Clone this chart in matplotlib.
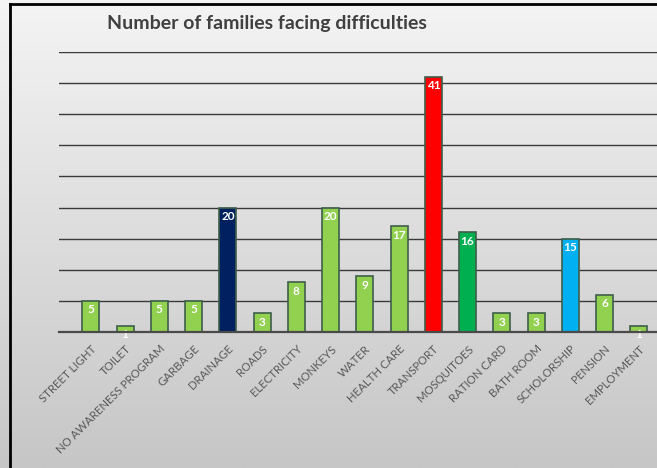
import numpy as np
import matplotlib.pyplot as plt
from matplotlib.lines import Line2D

categories = ['STREET LIGHT', 'TOILET', 'NO AWARENESS PROGRAM', 'GARBAGE', 'DRAINAGE',
              'ROADS', 'ELECTRICITY', 'MONKEYS', 'WATER', 'HEALTH CARE', 'TRANSPORT',
              'MOSQUITOES', 'RATION CARD', 'BATH ROOM', 'SCHOLORSHIP', 'PENSION', 'EMPLOYMENT']
families = [5, 1, 5, 5, 20, 3, 8, 20, 9, 17, 41, 16, 3, 3, 15, 6, 1]

green = '#92D050'
special = {'DRAINAGE': '#002060', 'TRANSPORT': '#FF0000',
           'MOSQUITOES': '#00B050', 'SCHOLORSHIP': '#00B0F0'}
colors = [special.get(c, green) for c in categories]

plt.rcParams['font.family'] = ['Lato', 'DejaVu Sans']

fig = plt.figure(figsize=(6.57, 4.68), dpi=100)

# gradient background
bg = fig.add_axes([0, 0, 1, 1], zorder=-10)
grad = np.linspace(0, 1, 256).reshape(-1, 1)
bg.imshow(grad, aspect='auto', cmap=plt.matplotlib.colors.LinearSegmentedColormap.from_list(
    'g', ['#f4f4f4', '#c6c6c6']), extent=[0, 1, 0, 1], origin='upper')
bg.axis('off')

# frame lines (top and left)
fig.add_artist(Line2D([10/657, 1], [1 - 4/468, 1 - 4/468], color='black', lw=2, transform=fig.transFigure))
fig.add_artist(Line2D([10/657, 10/657], [0, 1 - 4/468], color='black', lw=2, transform=fig.transFigure))

ax = fig.add_axes([59/657, 136/468, 1 - 59/657, 280/468])
ax.patch.set_alpha(0)
x = np.arange(len(categories))
bars = ax.bar(x, families, width=0.5, color=colors, edgecolor='#3e5e4a', linewidth=1.2, zorder=3)

for b, v in zip(bars, families):
    ax.annotate(str(v), (b.get_x() + b.get_width() / 2, v), xytext=(0, -6.5),
                textcoords='offset points', ha='center', va='center',
                color='white', fontsize=8.5, fontweight='bold', zorder=4)

ax.set_xlim(-0.93, 16.53)
ax.set_ylim(0, 45)
ax.set_yticks(np.arange(5, 50, 5))
ax.yaxis.grid(True, color='#3a3a3a', lw=1, zorder=0)
ax.tick_params(axis='y', left=False, labelleft=False)
ax.tick_params(axis='x', length=0, pad=8)
ax.set_xticks(x)
ax.set_xticklabels(categories, rotation=45, ha='right', va='top', rotation_mode='anchor',
                   fontsize=8.2, color='#595959')
for s in ['top', 'right', 'left']:
    ax.spines[s].set_visible(False)
ax.spines['bottom'].set_color('#4a4a4a')
ax.spines['bottom'].set_linewidth(1.6)
ax.spines['bottom'].set_zorder(5)

fig.text(267/657, 1 - 23/468, 'Number of families facing difficulties', ha='center', va='center',
         fontsize=14, fontweight='bold', color='#404040')

fig.savefig('out.png', dpi=100)
